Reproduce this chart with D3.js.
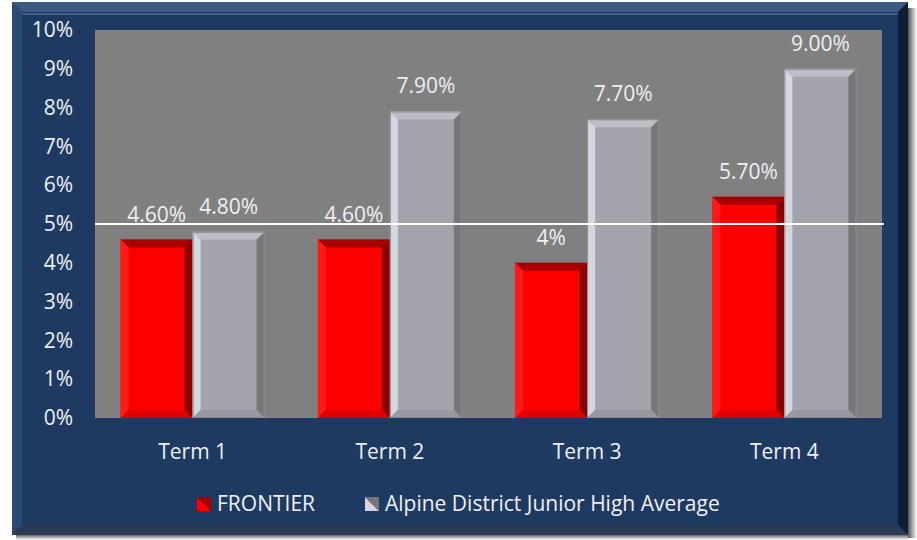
<!DOCTYPE html>
<html>
<head>
<meta charset="utf-8">
<script src="https://cdn.jsdelivr.net/npm/d3@7"></script>
<style>
  body { margin: 0; background: #fff; }
  svg { display: block; }
</style>
</head>
<body>
<svg id="chart" width="917" height="540"></svg>
<script>
/* data */
const terms = ["Term 1", "Term 2", "Term 3", "Term 4"]
const seriesNames = ["FRONTIER", "Alpine District Junior High Average"]
const frontier = [4.6, 4.6, 4.0, 5.7]
const alpine = [4.8, 7.9, 7.7, 9.0]
const frontierLabels = ["4.60%", "4.60%", "4%", "5.70%"]
const alpineLabels = ["4.80%", "7.90%", "7.70%", "9.00%"]
const yTicks = [0, 1, 2, 3, 4, 5, 6, 7, 8, 9, 10]
const refLine = 5

/* layout */
const width = 917
const height = 540
const marginTop = 30
const marginRight = 35
const marginBottom = 122
const marginLeft = 95
const bevel = 8
const font = "'Open Sans', sans-serif"
const fontSize = 21
const textColor = "#eef0f4"

const styles = [
  { fill: "#ff0000", top: "#a80000", right: "#8c0000", left: "#ff1a1a", bottom: "#e00000" },
  { fill: "#a4a4ac", top: "#bdbdc6", right: "#76767c", left: "#d6d6e0", bottom: "#98989f" }
]

const svg = d3.select("#chart")

/* outer frame with shadow */
const defs = svg.append("defs")
const sh = defs.append("linearGradient").attr("id", "shadowR")
sh.append("stop").attr("offset", "0").attr("stop-color", "#555")
sh.append("stop").attr("offset", "1").attr("stop-color", "#fff")
const shB = defs.append("linearGradient").attr("id", "shadowB").attr("x1", 0).attr("x2", 0).attr("y1", 0).attr("y2", 1)
shB.append("stop").attr("offset", "0").attr("stop-color", "#666")
shB.append("stop").attr("offset", "1").attr("stop-color", "#fff")

svg.append("rect").attr("x", 908).attr("y", 8).attr("width", 9).attr("height", 530).attr("fill", "url(#shadowR)")
svg.append("rect").attr("x", 16).attr("y", 535).attr("width", 892).attr("height", 5).attr("fill", "url(#shadowB)")

svg.append("rect")
.attr("x", 12).attr("y", 2).attr("width", 896).attr("height", 533)
.attr("fill", "#1e3a61")

/* frame bevel */
svg.append("path").attr("fill", "#3d5a82")
.attr("d", "M12,2 H908 L898,12 H22 Z")
svg.append("path").attr("fill", "#2b4a73")
.attr("d", "M12,2 L22,12 V525 L12,535 Z")
svg.append("path").attr("fill", "#0e1e36")
.attr("d", "M908,2 V535 L898,525 V12 Z")
svg.append("path").attr("fill", "#2a3a52")
.attr("d", "M12,535 H908 L898,525 H22 Z")
svg.append("line").attr("x1", 22).attr("x2", 898).attr("y1", 14).attr("y2", 14)
.attr("stroke", "#5878a0").attr("stroke-width", 2).attr("opacity", 0.6)

/* scales */
const x = d3.scaleBand(terms, [marginLeft, width - marginRight]).paddingInner(0.27).paddingOuter(0.13)
const xs = d3.scaleBand([0, 1], [0, x.bandwidth()])
const y = d3.scaleLinear([0, 10], [height - marginBottom, marginTop])

/* plot area */
svg.append("rect")
.attr("x", marginLeft).attr("y", marginTop)
.attr("width", width - marginLeft - marginRight)
.attr("height", height - marginTop - marginBottom)
.attr("fill", "#808080")

/* y axis */
svg.append("g")
.attr("transform", `translate(${marginLeft - 22},0)`)
.call(d3.axisLeft(y).tickValues(yTicks).tickFormat(d => d + "%").tickSize(0))
.call(g => g.select(".domain").remove())
.call(g => g.selectAll(".tick text")
  .attr("fill", textColor).attr("font-size", fontSize).attr("font-family", font).attr("x", 0))

/* bars */
const rows = terms.map((t, i) => ({ term: t, values: [frontier[i], alpine[i]], labels: [frontierLabels[i], alpineLabels[i]] }))

const group = svg.append("g")
.selectAll("g")
.data(rows)
.join("g")
.attr("transform", d => `translate(${x(d.term)},0)`)

const bar = group.selectAll("g")
.data(d => d.values.map((v, s) => ({ v, s, label: d.labels[s] })))
.join("g")

function barGeom(d) {
  const x0 = xs(d.s), x1 = xs(d.s) + xs.bandwidth()
  const y0 = y(d.v), y1 = y(0)
  return { x0, x1, y0, y1 }
}

bar.append("rect")
.attr("x", d => barGeom(d).x0)
.attr("y", d => barGeom(d).y0)
.attr("width", xs.bandwidth())
.attr("height", d => y(0) - y(d.v))
.attr("fill", d => styles[d.s].fill)

bar.append("path")
.attr("fill", d => styles[d.s].top)
.attr("d", d => { const g = barGeom(d); return `M${g.x0},${g.y0} H${g.x1} L${g.x1 - bevel},${g.y0 + bevel} H${g.x0 + bevel} Z` })
bar.append("path")
.attr("fill", d => styles[d.s].left)
.attr("d", d => { const g = barGeom(d); return `M${g.x0},${g.y0} L${g.x0 + bevel},${g.y0 + bevel} V${g.y1 - bevel} L${g.x0},${g.y1} Z` })
bar.append("path")
.attr("fill", d => styles[d.s].right)
.attr("d", d => { const g = barGeom(d); return `M${g.x1},${g.y0} V${g.y1} L${g.x1 - bevel},${g.y1 - bevel} V${g.y0 + bevel} Z` })
bar.append("path")
.attr("fill", d => styles[d.s].bottom)
.attr("d", d => { const g = barGeom(d); return `M${g.x0},${g.y1} H${g.x1} L${g.x1 - bevel},${g.y1 - bevel} H${g.x0 + bevel} Z` })
bar.filter(d => d.s === 1).append("rect")
.attr("x", d => barGeom(d).x0 + 0.5)
.attr("y", d => barGeom(d).y0 + 0.5)
.attr("width", xs.bandwidth() - 1)
.attr("height", d => y(0) - y(d.v) - 1)
.attr("fill", "none").attr("stroke", "#8a8a92").attr("stroke-width", 1)

/* reference line at 5% */
svg.append("line")
.attr("x1", marginLeft).attr("x2", width - marginRight + 2)
.attr("y1", y(refLine)).attr("y2", y(refLine))
.attr("stroke", "#fff").attr("stroke-width", 2)

/* value labels */
bar.append("text")
.attr("x", d => xs(d.s) + xs.bandwidth() / 2)
.attr("y", d => y(d.v) - 18)
.attr("text-anchor", "middle")
.attr("fill", textColor)
.attr("font-size", fontSize)
.attr("font-family", font)
.text(d => d.label)

/* x axis labels */
svg.append("g")
.attr("transform", `translate(0,${height - marginBottom})`)
.call(d3.axisBottom(x).tickSize(0).tickPadding(26))
.call(g => g.select(".domain").remove())
.call(g => g.selectAll(".tick text")
  .attr("fill", textColor).attr("font-size", fontSize).attr("font-family", font))

/* legend */
const legend = svg.append("g").attr("transform", "translate(197,504)")
const legendX = [0, 168]
const legendIcons = [
  ["#ff0000", "#a80000"],
  ["#d6d6e0", "#76767c"]
]
const item = legend.selectAll("g")
.data(seriesNames)
.join("g")
.attr("transform", (d, i) => `translate(${legendX[i]},0)`)
item.append("path")
.attr("fill", (d, i) => legendIcons[i][0])
.attr("d", "M0,-7 L0,7 H14 Z")
item.append("path")
.attr("fill", (d, i) => legendIcons[i][1])
.attr("d", "M0,-7 H14 V7 Z")
item.append("text")
.attr("x", 20)
.attr("y", 0)
.attr("dy", "0.33em")
.attr("fill", textColor)
.attr("font-size", fontSize)
.attr("font-family", font)
.text(d => d)
</script>
</body>
</html>
